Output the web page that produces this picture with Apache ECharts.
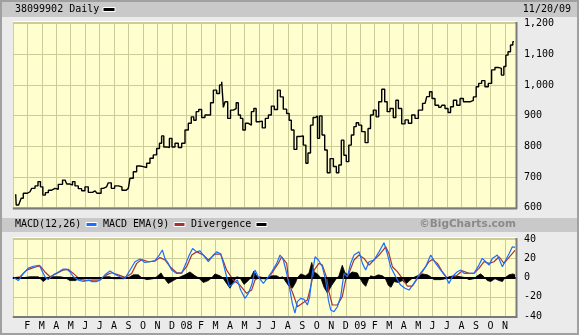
<!DOCTYPE html>
<html><head><meta charset="utf-8">
<script src="https://cdn.jsdelivr.net/npm/echarts@6/dist/echarts.min.js"></script>
<style>html,body{margin:0;padding:0;background:#ebebeb;overflow:hidden}#c{width:579px;height:335px}</style>
</head><body><div id="c"></div><script>
// x values are months since 1 Jan 2007 (fractional)
const monthTickLabels = ['J','F','M','A','M','J','J','A','S','O','N','D','08','F','M','A','M','J','J','A','S','O','N','D','09','F','M','A','M','J','J','A','S','O','N'];
const priceTicks = [600,700,800,900,1000,1100,1200];
const macdTicks = [-40,-20,0,20,40];

const priceMonths = [0.20,0.27,0.54,0.61,0.84,1.19,1.42,1.65,1.83,1.99,2.16,2.34,2.57,2.80,3.03,3.26,3.61,3.84,4.07,4.18,4.41,4.64,4.87,5.10,5.33,5.68,5.95,6.25,6.48,6.71,6.90,7.17,7.40,7.68,7.98,8.21,8.44,8.67,8.90,9.13,9.36,9.59,9.82,10.05,10.21,10.35,10.51,10.74,10.90,11.09,11.32,11.55,11.78,12.01,12.24,12.42,12.58,12.75,12.93,
13.16,13.39,13.58,13.74,13.97,14.20,14.36,14.50,14.59,14.73,14.96,15.12,15.35,15.51,15.65,15.81,15.97,16.16,16.39,16.57,16.73,16.89,17.12,17.35,17.54,17.77,17.95,18.18,18.39,18.57,18.80,19.03,19.15,19.33,19.52,19.72,19.95,20.19,20.30,20.48,20.65,20.83,20.99,21.11,21.27,21.45,21.64,21.80,22.03,22.26,22.44,22.60,22.79,22.95,23.13,23.29,23.48,23.64,23.80,23.98,
24.22,24.45,24.63,24.79,25.02,25.18,25.37,25.60,25.78,25.94,26.17,26.40,26.52,26.75,26.98,27.21,27.44,27.67,27.90,28.13,28.48,28.71,28.87,29.05,29.28,29.56,29.74,29.97,30.16,30.32,30.55,30.78,31.01,31.24,31.47,31.70,31.93,32.09,32.27,32.50,32.73,32.96,33.19,33.42,33.66,33.84,34.00,34.12,34.30,34.46,34.62];
const priceValues = [644,609,609,631,647,652,663,671,685,668,641,649,657,663,660,676,690,677,674,685,671,662,655,668,650,655,647,663,668,681,663,671,668,657,663,696,717,736,734,731,745,761,772,793,810,834,798,796,826,798,810,796,810,853,875,896,885,913,920,
894,902,902,942,983,972,1000,1010,927,945,891,918,923,942,902,891,853,875,869,913,923,880,882,860,891,902,931,920,983,961,921,907,885,853,790,832,834,804,745,778,869,894,899,826,899,837,788,714,760,734,714,739,820,771,750,804,837,864,877,869,
848,812,858,902,918,896,945,986,945,913,923,894,950,923,873,886,875,902,891,918,940,962,978,956,934,927,934,923,910,929,950,934,956,945,945,950,961,994,1005,1014,994,1005,1049,1057,1054,1032,1060,1097,1108,1130,1141];

const macdMonths = [0.08,0.38,0.73,1.07,1.42,1.83,1.99,2.22,2.45,2.80,3.15,3.49,3.72,3.95,4.18,4.53,4.87,5.22,5.45,5.80,6.02,6.37,6.71,7.06,7.41,7.75,8.10,8.44,8.79,9.13,9.48,9.82,10.12,10.33,10.51,10.74,10.97,11.32,11.66,11.96,12.19,12.42,12.70,12.93,13.16,13.51,13.85,14.08,14.36,14.54,14.77,14.96,15.23,15.51,15.74,16.04,16.27,16.50,16.73,16.96,17.31,17.65,17.88,18.23,18.46,18.69,18.92,
19.08,19.31,19.49,19.66,19.89,20.12,20.35,20.51,20.69,20.88,21.11,21.38,21.61,21.80,21.96,22.19,22.42,22.65,22.88,23.11,23.34,23.57,23.92,24.15,24.38,24.61,24.95,25.30,25.64,25.87,26.10,26.45,26.79,27.09,27.37,27.71,28.06,28.52,28.87,29.21,29.56,29.90,30.13,30.36,30.71,30.94,31.17,31.51,31.86,32.20,32.43,32.67,32.90,33.13,33.47,33.82,34.05,34.28,34.51,34.69];
const macdValues = [0,-3,4.5,10,12,13,8,1,-2,3,6,9,9,6,1,-2.5,-4,-2.5,-4,-4,-2.5,3,7,3.5,1,-0.7,8,16.7,19.5,16,16.7,17.8,23.7,29,20,15,8,4.5,4.5,15,23.7,30.6,27,28,23.7,16.7,23.7,27,25,15,1,-9.4,-5.9,-2.4,-12.9,-21.6,-16.3,-7.7,8,1,-5.9,1,6,15,23.7,18.5,4.5,
-7.7,-26.8,-37,-25,-21.6,-22.6,-28.5,-19.8,4.5,21.9,18.5,11.5,-2.4,-23.3,-33.7,-35.5,-30.3,-19.8,4.5,1,15,23.7,27,15,8,16.7,18.5,27,36.5,25,11.5,1,-7.7,-11,-12.9,-5.9,2.8,11.5,23.7,15,8,1,-5.9,1,6.3,8,4.5,4.5,4.5,13.2,20.2,16.7,13.2,20.2,23.7,11.5,18.5,25,32.3,31.7];

const emaMonths = [0.08,0.50,0.96,1.42,1.88,2.22,2.57,3.03,3.49,3.84,4.18,4.64,5.10,5.56,6.02,6.48,6.83,7.29,7.75,8.21,8.56,8.90,9.36,9.82,10.17,10.51,10.86,11.32,11.66,12.01,12.36,12.70,13.16,13.51,13.97,14.36,14.77,15.23,15.69,16.15,16.50,16.73,17.07,17.54,17.88,18.34,18.57,18.92,
19.08,19.43,19.66,20.00,20.35,20.58,20.81,21.15,21.38,21.66,21.84,22.07,22.42,22.76,22.99,23.22,23.57,23.92,24.26,24.61,24.95,25.30,25.76,25.99,26.22,26.56,26.91,27.25,27.60,27.95,28.29,28.75,28.98,29.33,29.67,30.02,30.36,30.71,31.05,31.51,31.86,32.20,32.55,32.90,33.24,33.59,33.93,34.28,34.69];
const emaValues = [0,1,8,10.5,12.5,6,1,4.5,8,8.7,4.5,-1.7,-3,-2.5,-2.5,3,5.2,3,0.3,4.5,15,19,16.7,17.4,21,18.5,11.5,5.2,5.2,11.5,23.7,27,23.7,18.5,24.7,24.7,8,-2.4,-7.7,-16.3,-12.9,-2.4,1,-1.7,4.5,15,21.9,15,
-5.9,-19.8,-30.3,-26.8,-23.3,-9.4,8,15,13.2,1,-14.6,-28.5,-28.5,-19.8,-2.4,4.5,18.5,23.7,20.2,13.2,18.5,23.7,32.3,25,11.5,6.3,-0.7,-8.7,-8.7,-0.7,6.3,16.7,19.1,15,6.3,-0.7,-0.7,2.8,7.3,4.5,4.5,9.7,16.7,15,16.7,21.9,15,21.2,28.5];

const divMonths = [0.08,0.38,0.73,1.19,1.76,1.88,2.11,2.34,2.57,3.26,3.61,3.95,4.30,4.64,5.33,6.02,6.37,6.71,6.94,7.64,7.98,8.33,8.67,8.90,9.25,9.71,9.94,10.24,10.44,10.74,11.09,11.43,11.89,12.24,12.59,12.82,13.16,13.51,13.74,13.97,14.31,14.50,14.77,15.00,15.23,15.47,15.69,15.97,16.27,16.43,16.66,16.84,17.07,17.54,17.88,18.23,18.46,18.64,18.80,
19.08,19.31,19.54,19.66,19.89,20.23,20.46,20.65,20.81,21.04,21.27,21.50,21.73,22.03,22.30,22.53,22.76,22.95,23.18,23.45,23.80,23.96,24.19,24.38,24.56,24.72,24.95,25.25,25.53,25.71,25.94,26.13,26.33,26.63,26.91,27.19,27.41,27.65,27.95,28.29,28.64,28.87,29.10,29.56,29.90,30.13,30.48,30.94,31.28,31.51,31.86,32.09,32.32,32.55,32.78,33.01,33.31,33.59,33.82,34.00,34.28,34.55,34.69];
const divValues = [0,-1,0,1,1,0,-4,-1,1,1,0,-3,-3,-1,-1,-1,1,1,-1,-1,0,3,3,0,-2,-1,1,5,0,-6,-3,0,3,6,2,0,-5,-3,0,4,2,0,-6,-11,-5,1,0,-7,-3,0,7,2,-1,-1,2,2,0,1,-3,
-9,-11,-5,0,4,2,5,16,6,4,0,-10,-16,-8,-2,2,13,5,3,6,5,0,-6,-9,-2,2,1,3,2,0,-8,-10,-4,-5,-3,-6,-3,0,2,4,3,1,-2,-2,-1,1,2,1,0,-2,-1,2,4,1,-3,-4,-1,-3,-4,0,3,4,3];

const zip = (a, b) => a.map((v, i) => [v, b[i]]);
const FONT = 'DejaVu Sans Mono';
const GRID_BG = '#fefecf';
const SPLIT = '#cccc99';
const X_MAX = 34.76;

const chart = echarts.init(document.getElementById('c'), null, {renderer: 'canvas'});
const fmt = v => v.toLocaleString('en-US');

chart.setOption({
  animation: false,
  backgroundColor: '#ebebeb',
  grid: [
    {left: 12.8, right: 63, top: 22, height: 185.7, show: true, backgroundColor: GRID_BG, borderWidth: 0},
    {left: 12.8, right: 63, top: 238, height: 78, show: true, backgroundColor: GRID_BG, borderWidth: 0}
  ],
  xAxis: [
    {type: 'value', gridIndex: 0, min: 0, max: X_MAX, interval: 1,
     axisLine: {show: false}, axisTick: {show: false}, axisLabel: {show: false},
     splitLine: {show: true, lineStyle: {color: SPLIT, width: 1}}},
    {type: 'value', gridIndex: 1, min: 0, max: X_MAX, interval: 1,
     axisLine: {show: false}, axisTick: {show: false},
     axisLabel: {show: true, showMinLabel: false, showMaxLabel: false, margin: 5,
       fontFamily: FONT, fontSize: 10, color: '#000',
       formatter: v => monthTickLabels[Math.round(v)] || ''},
     splitLine: {show: true, lineStyle: {color: SPLIT, width: 1}}}
  ],
  yAxis: [
    {type: 'value', gridIndex: 0, position: 'right', min: priceTicks[0], max: 1205, interval: 100,
     axisLine: {show: false}, axisTick: {show: false},
     axisLabel: {margin: 8, fontFamily: FONT, fontSize: 10, color: '#000', formatter: v => priceTicks.includes(v) ? fmt(v) : ''},
     splitLine: {show: true, lineStyle: {color: SPLIT, width: 1}}},
    {type: 'value', gridIndex: 1, position: 'right', min: macdTicks[0], max: 41.5, interval: 20,
     axisLine: {show: false}, axisTick: {show: false},
     axisLabel: {margin: 8, fontFamily: FONT, fontSize: 10, color: '#000', formatter: v => macdTicks.includes(v) ? String(v) : ''},
     splitLine: {show: true, lineStyle: {color: SPLIT, width: 1}}}
  ],
  series: [
    {type: 'line', xAxisIndex: 0, yAxisIndex: 0, data: zip(priceMonths, priceValues), symbol: 'none', step: 'middle',
     lineStyle: {color: '#000', width: 1.4}, z: 5},
    {type: 'line', xAxisIndex: 1, yAxisIndex: 1, data: zip(divMonths, divValues), symbol: 'none',
     lineStyle: {color: '#000', width: 0.8}, areaStyle: {color: '#000', opacity: 1}, z: 3,
     markLine: {silent: true, symbol: 'none', label: {show: false}, lineStyle: {color: '#000', width: 2, type: 'solid'}, data: [{yAxis: 0}]}},
    {type: 'line', xAxisIndex: 1, yAxisIndex: 1, data: zip(emaMonths, emaValues), symbol: 'none',
     lineStyle: {color: '#a83232', width: 1.2}, z: 4},
    {type: 'line', xAxisIndex: 1, yAxisIndex: 1, data: zip(macdMonths, macdValues), symbol: 'none',
     lineStyle: {color: '#1a6fff', width: 1.2}, z: 5}
  ],
  graphic: [
    {type: 'rect', shape: {x: 1, y: 1, width: 577, height: 333}, style: {fill: 'none', stroke: '#a0a0a0', lineWidth: 2}, z: 1},
    {type: 'rect', shape: {x: 2, y: 2, width: 575, height: 15}, style: {fill: '#c9c9c9'}, z: 1},
    {type: 'rect', shape: {x: 2, y: 218, width: 575, height: 14}, style: {fill: '#c9c9c9'}, z: 1},
    // panel bevels
    {type: 'line', shape: {x1: 12.8, y1: 21.5, x2: 516, y2: 21.5}, style: {stroke: '#ffffff', lineWidth: 1}, z: 10},
    {type: 'line', shape: {x1: 12.8, y1: 208.5, x2: 517, y2: 208.5}, style: {stroke: '#7a7a7a', lineWidth: 2}, z: 10},
    {type: 'line', shape: {x1: 516.5, y1: 22, x2: 516.5, y2: 209}, style: {stroke: '#7a7a7a', lineWidth: 2}, z: 10},
    {type: 'line', shape: {x1: 12.8, y1: 237.5, x2: 516, y2: 237.5}, style: {stroke: '#ffffff', lineWidth: 1}, z: 10},
    {type: 'line', shape: {x1: 12.8, y1: 317, x2: 517, y2: 317}, style: {stroke: '#7a7a7a', lineWidth: 2}, z: 10},
    {type: 'line', shape: {x1: 516.5, y1: 238, x2: 516.5, y2: 318}, style: {stroke: '#7a7a7a', lineWidth: 2}, z: 10},
    // header texts
    {type: 'text', left: 15, top: 4, style: {text: '38099902 Daily', font: '10px "DejaVu Sans Mono"', fill: '#000'}, z: 10},
    {type: 'rect', shape: {x: 103, y: 7.5, width: 12, height: 4}, style: {fill: '#000', stroke: '#fff', lineWidth: 1}, z: 10},
    {type: 'text', right: 8, top: 4, style: {text: '11/20/09', font: '10px "DejaVu Sans Mono"', fill: '#000'}, z: 10},
    // macd legend
    {type: 'text', left: 15, top: 219.5, style: {text: 'MACD(12,26)', font: '10px "DejaVu Sans Mono"', fill: '#000'}, z: 10},
    {type: 'rect', shape: {x: 86, y: 222.5, width: 11, height: 4}, style: {fill: '#1a6fff', stroke: '#fff', lineWidth: 1}, z: 10},
    {type: 'text', left: 103, top: 219.5, style: {text: 'MACD EMA(9)', font: '10px "DejaVu Sans Mono"', fill: '#000'}, z: 10},
    {type: 'rect', shape: {x: 174, y: 222.5, width: 11, height: 4}, style: {fill: '#a83232', stroke: '#fff', lineWidth: 1}, z: 10},
    {type: 'text', left: 191, top: 219.5, style: {text: 'Divergence', font: '10px "DejaVu Sans Mono"', fill: '#000'}, z: 10},
    {type: 'rect', shape: {x: 256, y: 222.5, width: 11, height: 4}, style: {fill: '#000', stroke: '#fff', lineWidth: 1}, z: 10},
    {type: 'text', right: 63, top: 219, style: {text: '©BigCharts.com', font: 'bold 10.5px "DejaVu Sans"', fill: '#8a8a8a'}, z: 10}
  ]
});
</script></body></html>
